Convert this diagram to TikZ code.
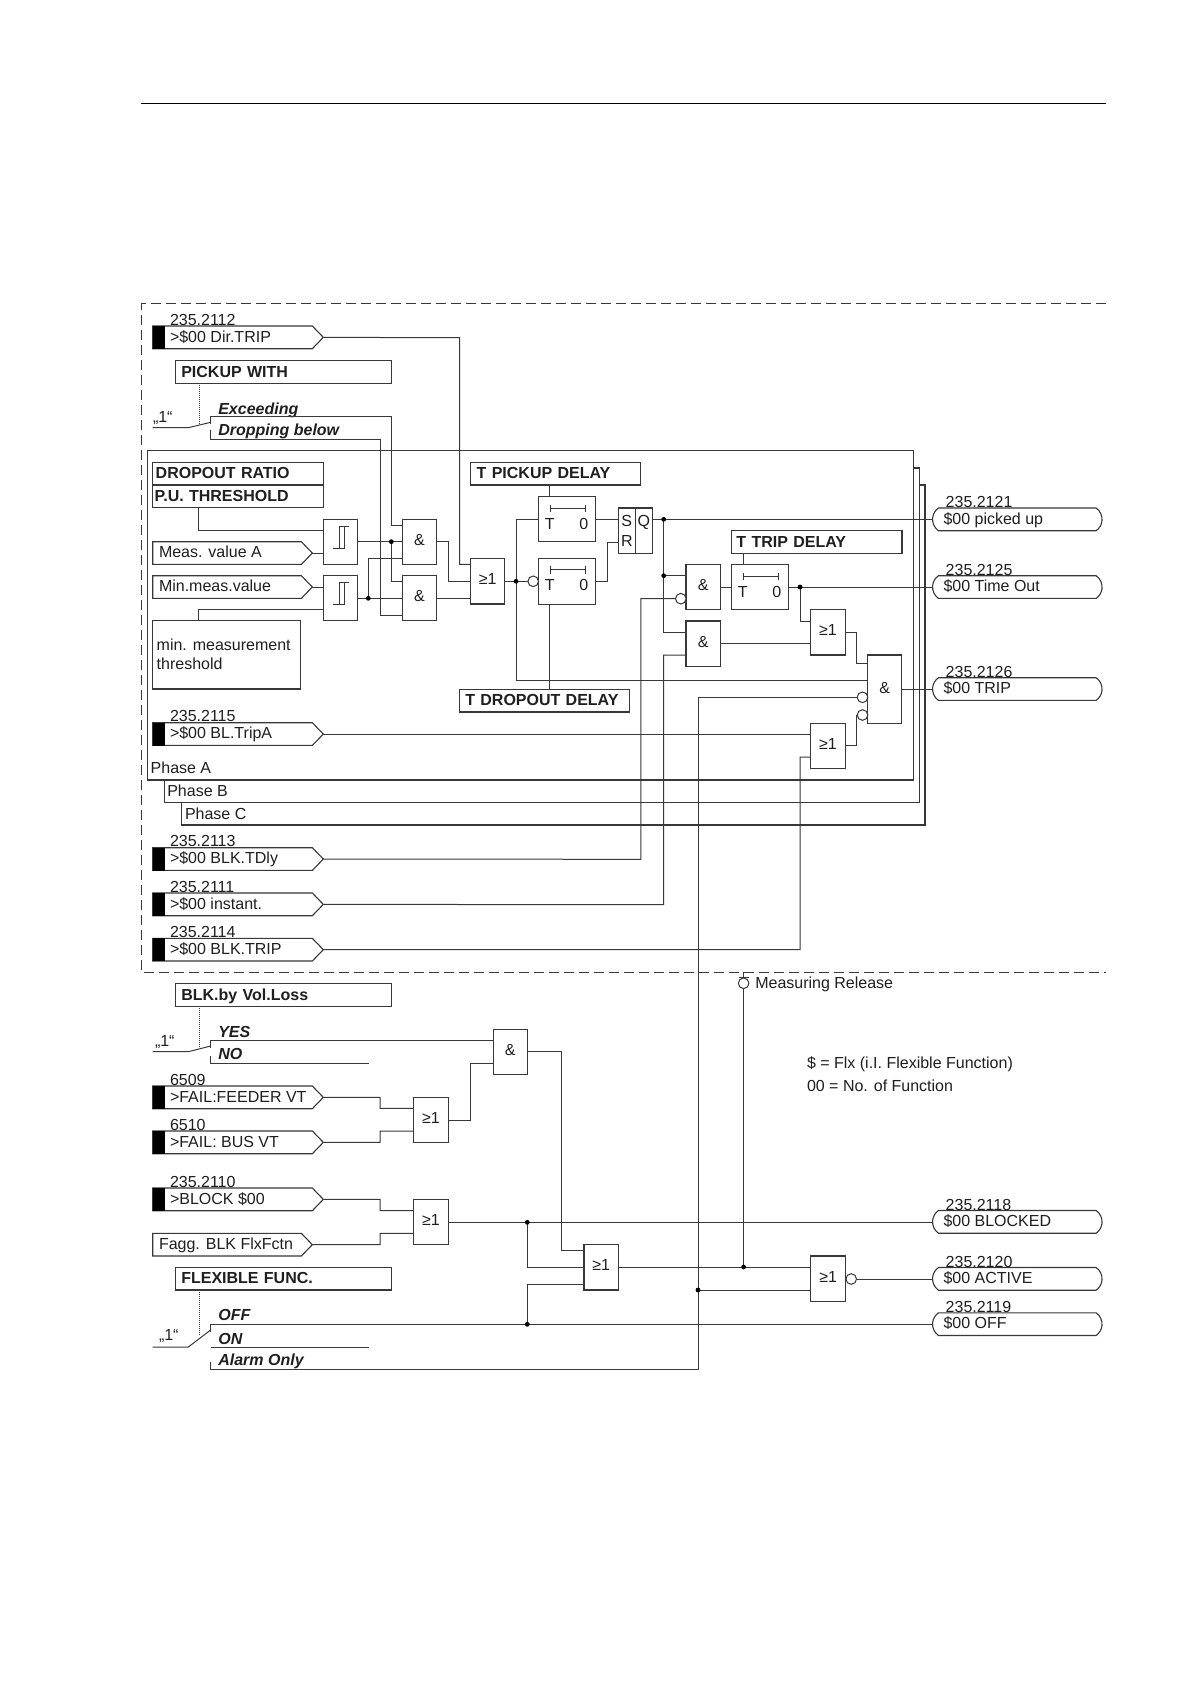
\documentclass[tikz,border=0pt]{standalone}
\usepackage{fontspec}
\setmainfont{Liberation Sans}
\usetikzlibrary{shapes.misc,shapes.symbols,calc}
\definecolor{linec}{gray}{0.22}
\definecolor{textc}{gray}{0.12}
\newcommand\fs{\fontsize{16pt}{19pt}\selectfont}
\tikzset{
  wire/.style={draw=linec,line width=1pt,line cap=butt},
  boxs/.style={draw=linec,line width=1.1pt,inner sep=0pt,outer sep=0pt,fill=white,font=\fs,text=textc},
  txt/.style={inner sep=0pt,outer sep=0pt,font=\fs,text=textc},
  btxt/.style={inner sep=0pt,outer sep=0pt,font=\fs\bfseries\itshape,text=textc},
  sel/.style={draw=linec,line width=1pt,densely dotted},
  sigbox/.style={signal,signal to=east,signal from=nowhere,signal pointer angle=92,draw=linec,line width=1.1pt,fill=white,inner sep=0pt,outer sep=0pt},
  outbox/.style={rounded rectangle,rounded rectangle arc length=110,draw=linec,line width=1.1pt,fill=white,inner sep=0pt,outer sep=0pt,minimum width=169.5pt,minimum height=22.7pt},
  inv/.style={circle,draw=linec,line width=1pt,fill=white,minimum size=10.6pt,inner sep=0pt,outer sep=0pt},
  jdot/.style={circle,fill=black,minimum size=4.8pt,inner sep=0pt,outer sep=0pt}
}
% box by corners: name x1 y1 x2 y2 text
\newcommand\bx[6]{\node[boxs,minimum width={(#4-#2)*1pt},minimum height={(#5-#3)*1pt}] (#1) at ({(#2+#4)/2},{(#3+#5)/2}) {#6};}
\newcommand\ggate[6]{\bx{#1}{#2}{#3}{#4}{#5}{\raisebox{4pt}{#6}}}
% left aligned bold box
\newcommand\lbx[7]{\pgfmathsetlengthmacro\tw{(#4-#2-2*#6)*1pt}
  \node[boxs,font=\fs\bfseries,text width=\tw,align=left,inner xsep=#6pt,text height=13.5pt,text depth=3pt,minimum height={(#5-#3)*1pt}] (#1) at ({(#2+#4)/2},{(#3+#5)/2}) {#7};}
% input: name ytop number label
\newcommand\inp[4]{\node[sigbox,minimum width=170.6pt,minimum height=22.7pt,anchor=west] (#1) at (152.7,#2+11.35) {};
  \node[boxs,fill=black,draw=none,minimum width=11.5pt,minimum height=23pt] (#1k) at (158.8,#2+11.35) {};
  \node[txt,anchor=base west] (#1n) at (170,#2-1) {#3};
  \node[txt,anchor=base west] (#1l) at (170,#2+16) {#4};}
% plain input: name ytop label
\newcommand\pinp[3]{\node[sigbox,minimum width=159.6pt,minimum height=22.7pt,anchor=west] (#1) at (152.7,#2+11.35) {};
  \node[txt,anchor=base west] (#1l) at (159,#2+16) {#3};}
% output: name ytop number label
\newcommand\outp[4]{\node[outbox] (#1) at (1017.3,#2+11.35) {};
  \node[txt,anchor=base west] (#1n) at (945.7,#2-0.5) {#3};
  \node[txt,anchor=base west] (#1l) at (943.5,#2+16) {#4};}
% timer: name x1 y1 y2
\newcommand\timer[4]{\bx{#1}{#2}{#3}{#2+57.2}{#4}{}
  \node[txt,anchor=base] (#1t) at (#2+11.4,#3+32.4) {T};
  \node[txt,anchor=base] (#1z) at (#2+45.3,#3+32.4) {0};
  \draw[wire,line width=.9pt,|-|] (#2+11.4,#3+11.6) -- (#2+47.3,#3+11.6);}
% hysteresis symbol
\newcommand\hyst[1]{\draw[wire] ([shift={(-7,6.5)}]#1.center) -- ([shift={(4,6.5)}]#1.center) -- ([shift={(4,-15.8)}]#1.center) ([shift={(-1,6.5)}]#1.center) -- ([shift={(-1,-15.8)}]#1.center) -- ([shift={(9,-15.8)}]#1.center);}
\begin{document}
\begin{tikzpicture}[x=1pt,y=-1pt]
\useasboundingbox (0,0) rectangle (1190,1684);
\fill[white] (0,0) rectangle (1190,1684);
% page rule and frame
\draw[black,line width=.9pt] (141,103.5) -- (1106,103.5);
\draw[linec,line width=1pt,dash pattern=on 10pt off 5pt] (1105.5,303.4) -- (141.7,303.4) -- (141.7,972.4) -- (1105.5,972.4);
% phase frames
\draw[wire,line width=1.1pt] (147.3,450.7) rectangle (913.5,780);
\draw[wire,line width=1.1pt] (164.3,780) -- (164.3,802.3) -- (919.6,802.3) -- (919.6,468) -- (913.5,468);
\draw[wire,line width=1.1pt] (181.3,802.3) -- (181.3,825) -- (925,825) -- (925,485) -- (919.6,485);
\node[txt,anchor=base west] (pa) at (150.7,773.6) {Phase A};
\node[txt,anchor=base west] (pb) at (167.3,796.3) {Phase B};
\node[txt,anchor=base west] (pc) at (185,819) {Phase C};
% inputs
\inp{dirtrip}{326}{235.2112}{>\$00 Dir.TRIP}
\pinp{measa}{541.7}{Meas. value A}
\pinp{minmeas}{575.7}{Min.meas.value}
\inp{bltrip}{722.7}{235.2115}{>\$00 BL.TripA}
\inp{blktdly}{847.7}{235.2113}{>\$00 BLK.TDly}
\inp{inst}{893}{235.2111}{>\$00 instant.}
\inp{blktrip}{938.3}{235.2114}{>\$00 BLK.TRIP}
\inp{ffeeder}{1086}{6509}{>FAIL:FEEDER VT}
\inp{fbus}{1131}{6510}{>FAIL: BUS VT}
\inp{blockin}{1188}{235.2110}{>BLOCK \$00}
\pinp{fagg}{1233.3}{Fagg. BLK FlxFctn}
% setting boxes
\lbx{pickw}{175.3}{360.7}{391.3}{383.3}{6}{PICKUP WITH}
\lbx{drop}{152.7}{462.3}{323.3}{485}{3}{DROPOUT RATIO}
\lbx{puth}{152.7}{485}{323.3}{507.7}{2}{P.U. THRESHOLD}
\lbx{tpick}{470.7}{462.3}{640.8}{485}{6}{T PICKUP DELAY}
\lbx{ttrip}{731.4}{530.7}{902}{553.3}{5}{T TRIP DELAY}
\lbx{tdrop}{459.3}{689.3}{629.3}{712}{6}{T DROPOUT DELAY}
\lbx{blkvol}{175.3}{983.7}{391.3}{1006.3}{6}{BLK.by Vol.Loss}
\lbx{flex}{175.3}{1267.3}{391.3}{1290}{6}{FLEXIBLE FUNC.}
\node[boxs,minimum width=148pt,minimum height=68.3pt] (minth) at (226.7,654.85) {};
\node[txt,anchor=base west] (minth1) at (156.7,650) {min. measurement};
\node[txt,anchor=base west] (minth2) at (156.7,669.3) {threshold};
% gates
\bx{h1}{323.3}{519.3}{357.3}{564.3}{}
\bx{h2}{323.3}{575.7}{357.3}{620.7}{}
\hyst{h1}\hyst{h2}
\ggate{and1}{402.3}{519.3}{436.7}{564.3}{\&}
\ggate{and2}{402.3}{575.7}{436.7}{620.7}{\&}
\ggate{or1}{470.7}{558.3}{504.7}{604}{≥1}
\timer{t1}{538.4}{496.7}{541.7}
\timer{t2}{538.4}{558.3}{604.3}
\timer{t3}{731.4}{564.7}{609.7}
\bx{sr}{618.4}{508}{635.5}{553.3}{}
\bx{srq}{635.5}{508}{652.2}{553.3}{}
\node[txt,anchor=base] (srs) at (626.8,526.5) {S};
\node[txt,anchor=base] (srr) at (626.8,546.5) {R};
\node[txt,anchor=base] (srql) at (643.8,526.5) {Q};
\ggate{and3}{686}{564.7}{720.4}{609.7}{\&}
\ggate{and4}{686}{621}{720.4}{666.3}{\&}
\ggate{or2}{810.6}{609.7}{845.3}{655}{≥1}
\bx{and5}{867.8}{655}{901.6}{723.3}{\raisebox{2.5pt}{\&}}
\ggate{or3}{810.6}{723.3}{845.3}{768.3}{≥1}
\ggate{and6}{493.3}{1029.7}{527.3}{1074.3}{\&}
\ggate{or4}{413.7}{1097.3}{448.3}{1142.3}{≥1}
\ggate{or5}{413.7}{1199.3}{448.3}{1244.3}{≥1}
\ggate{or6}{584}{1244.7}{618.3}{1290}{≥1}
\ggate{or7}{810.7}{1256}{845.5}{1301.3}{≥1}
% inversion circles
\node[inv] (c1) at (533.2,581.3) {};
\node[inv] (c2) at (680.8,598.7) {};
\node[inv] (c3) at (862.5,697.3) {};
\node[inv] (c4) at (862.5,715) {};
\node[inv] (c5) at (851.2,1279) {};
\node[inv] (c6) at (743.6,983.3) {};
% outputs
\outp{opick}{508}{235.2121}{\$00 picked up}
\outp{otime}{575.7}{235.2125}{\$00 Time Out}
\outp{otrip}{677.7}{235.2126}{\$00 TRIP}
\outp{oblock}{1210.5}{235.2118}{\$00 BLOCKED}
\outp{oact}{1267.5}{235.2120}{\$00 ACTIVE}
\outp{ooff}{1312.8}{235.2119}{\$00 OFF}
% switch selectors
\draw[sel] (pickw.south -| 199,0) -- (199,425);
\draw[sel] (blkvol.south -| 199,0) -- (199,1047);
\draw[sel] (flex.south -| 199,0) -- (199,1336);
\node[txt,anchor=base west] (one1) at (153,422) {„1“};
\node[txt,anchor=base west] (one2) at (155,1046) {„1“};
\node[txt,anchor=base west] (one3) at (159,1340.7) {„1“};
\draw[wire] (152.7,427.7) -- (188.3,427.7) -- (210.7,422.3);
\draw[wire] (152.7,1051.7) -- (188.3,1051.7) -- (210.7,1046);
\draw[wire] (152.7,1347) -- (188.3,1347) -- (210.7,1330);
\node[btxt,anchor=base west] (exc) at (218.3,414) {Exceeding};
\node[btxt,anchor=base west] (dro) at (218.3,435) {Dropping below};
\node[btxt,anchor=base west] (yes) at (218.3,1037.7) {YES};
\node[btxt,anchor=base west] (no) at (218.3,1059) {NO};
\node[btxt,anchor=base west] (off) at (218.3,1320.7) {OFF};
\node[btxt,anchor=base west] (on) at (218.3,1344) {ON};
\node[btxt,anchor=base west] (alarm) at (218.3,1365.7) {Alarm Only};
% settings wires
\draw[wire] (210.7,424) -- (210.7,416.7) -- (391.3,416.7) -- (391.3,525) -- (and1.west |- 0,525);
\draw[wire] (210.7,430) -- (210.7,439.3) -- (380,439.3) -- (380,615) -- (and2.west |- 0,615);
\draw[wire] (puth.south -| 198.3,0) -- (198.3,530) -- (h1.west |- 0,530);
\draw[wire] (minth.north -| 198.3,0) -- (198.3,609.7) -- (h2.west |- 0,609.7);
\draw[wire] (measa.east) -- (h1.west |- measa.east);
\draw[wire] (minmeas.east) -- (h2.west |- minmeas.east);
\draw[wire] (h1.east |- 0,541.7) -- (and1.west |- 0,541.7);
\draw[wire] (h2.east |- 0,598.3) -- (and2.west |- 0,598.3);
\draw[wire] (391.3,541.7) -- (391.3,581) -- (and2.west |- 0,581);
\draw[wire] (368.3,598.3) -- (368.3,558.3) -- (and1.west |- 0,558.3);
\draw[wire] (and1.east |- 0,541.7) -- (448.3,541.7) -- (448.3,581.7) -- (or1.west |- 0,581.7);
\draw[wire] (and2.east |- 0,598.3) -- (or1.west |- 0,598.3);
\draw[wire] (dirtrip.east) -- (459.7,337.7) -- (459.7,564.3) -- (or1.west |- 0,564.3);
\draw[wire] (or1.east |- 0,581.3) -- (c1.west);
\draw[wire] (t1.west |- 0,519.3) -- (516,519.3) -- (516,680.3) -- (and5.west |- 0,680.3);
\draw[wire] (tpick.south -| 549.8,0) -- (t1.north -| 549.8,0);
\draw[wire] (t2.south -| 549.8,0) -- (tdrop.north -| 549.8,0);
\draw[wire] (t1.east |- 0,519.3) -- (sr.west |- 0,519.3);
\draw[wire] (t2.east |- 0,581.3) -- (607,581.3) -- (607,542) -- (sr.west |- 0,542);
\draw[wire] (srq.east |- 0,519.3) -- (opick.west |- 0,519.3);
\draw[wire] (663.7,519.3) -- (663.7,632.3) -- (and4.west |- 0,632.3);
\draw[wire] (663.7,575.7) -- (and3.west |- 0,575.7);
\draw[wire] (inst.east) -- (663.7,904.7) -- (663.7,655) -- (and4.west |- 0,655);
\draw[wire] (blktdly.east) -- (640.8,859.3) -- (640.8,598.7) -- (c2.west);
\draw[wire] (and3.east |- 0,587) -- (t3.west |- 0,587);
\draw[wire] (ttrip.south -| 743.3,0) -- (t3.north -| 743.3,0);
\draw[wire] (t3.east |- 0,587) -- (otime.west |- 0,587);
\draw[wire] (800,587) -- (800,621) -- (or2.west |- 0,621);
\draw[wire] (and4.east |- 0,643.3) -- (or2.west |- 0,643.3);
\draw[wire] (or2.east |- 0,632) -- (856.7,632) -- (856.7,663.7) -- (and5.west |- 0,663.7);
\draw[wire] (or3.east |- 0,745.7) -- (856.7,745.7) -- (856.7,715) -- (c4.west);
\draw[wire] (bltrip.east) -- (or3.west |- bltrip.east);
\draw[wire] (blktrip.east) -- (800,949.7) -- (800,757) -- (or3.west |- 0,757);
\draw[wire] (and5.east |- 0,689.3) -- (otrip.west |- 0,689.3);
% lower part
\draw[wire] (210.7,1048) -- (210.7,1040.7) -- (and6.west |- 0,1040.7);
\draw[wire] (210.7,1056) -- (210.7,1063.3) -- (368.7,1063.3);
\draw[wire] (ffeeder.east) -- (380,1097.3) -- (380,1108.3) -- (or4.west |- 0,1108.3);
\draw[wire] (fbus.east) -- (380,1142.3) -- (380,1131) -- (or4.west |- 0,1131);
\draw[wire] (or4.east |- 0,1120) -- (470.7,1120) -- (470.7,1063.3) -- (and6.west |- 0,1063.3);
\draw[wire] (and6.east |- 0,1051.7) -- (561.7,1051.7) -- (561.7,1250.3) -- (or6.west |- 0,1250.3);
\draw[wire] (blockin.east) -- (380,1199.3) -- (380,1210.7) -- (or5.west |- 0,1210.7);
\draw[wire] (fagg.east) -- (380,1244.7) -- (380,1233.3) -- (or5.west |- 0,1233.3);
\draw[wire] (or5.east |- 0,1222.3) -- (oblock.west |- 0,1222.3);
\draw[wire] (527.3,1222.3) -- (527.3,1267) -- (or6.west |- 0,1267);
\draw[wire] (210.7,1332) -- (210.7,1324.3) -- (ooff.west |- 0,1324.3);
\draw[wire] (527.3,1324.3) -- (527.3,1284.3) -- (or6.west |- 0,1284.3);
\draw[wire] (210.7,1347) -- (368.7,1347);
\draw[wire] (210.7,1361.7) -- (210.7,1369.3) -- (698,1369.3) -- (698,697.3) -- (c3.west);
\draw[wire] (or6.east |- 0,1267) -- (or7.west |- 0,1267);
\draw[wire] (698,1290) -- (or7.west |- 0,1290);
\draw[wire] (743.6,1267) -- (c6.south);
\draw[wire] (c6.north) -- (743.6,972.4);
\draw[wire] (738.6,977) -- (748.6,977);
\draw[wire] (c5.east) -- (oact.west |- c5.east);
% junction dots
\foreach \n/\p in {a/{391.3,541.7},b/{368.3,598.3},c/{516,581.3},d/{663.7,519.3},e/{663.7,575.7},f/{800,587},g/{527.3,1222.3},h/{527.3,1324.3},i/{743.6,1267},k/{698,1290}}
  \node[jdot] (j\n) at (\p) {};
% notes
\node[txt,anchor=base west] (mrel) at (755.3,988.5) {Measuring Release};
\node[txt,anchor=base west] (note1) at (807,1068.2) {\$ = Flx (i.I. Flexible Function)};
\node[txt,anchor=base west] (note2) at (807,1091) {00 = No. of Function};
\end{tikzpicture}
\end{document}
